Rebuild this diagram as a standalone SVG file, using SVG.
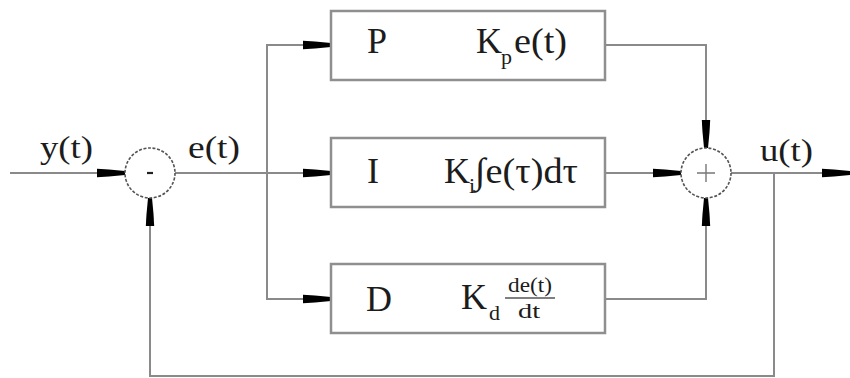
<svg xmlns="http://www.w3.org/2000/svg" width="850" height="378" viewBox="0 0 850 378">
<style>
.wire{fill:none;stroke:#8a8a8a;stroke-width:2}
.box{fill:#fff;stroke:#8f8f8f;stroke-width:2.5}
.sum{fill:#fff;stroke:#555;stroke-width:1.6;stroke-dasharray:3 1.6}
.t{font-family:"Liberation Serif","Times New Roman",serif;fill:#1c1c1c}
.lbl{font-size:32px}
.big{font-size:36px}
.sub{font-size:22px}
.frac{font-size:20px}
</style>
<defs>
<marker id="arr" markerUnits="userSpaceOnUse" markerWidth="32" markerHeight="12" viewBox="-30 -6 32 12" refX="0" refY="0" orient="auto" overflow="visible">
<path d="M-28,-4.2 L-16,-3.5 L0,-2 L0,2 L-16,3.5 L-28,4.2 Z" fill="#000"/>
</marker>
</defs>
<g id="connectors">
<path class="wire" d="M10,173 H125" marker-end="url(#arr)"/>
<path class="wire" d="M175,173 H331" marker-end="url(#arr)"/>
<path class="wire" d="M267,173 V45 H331" marker-end="url(#arr)"/>
<path class="wire" d="M267,173 V299 H331" marker-end="url(#arr)"/>
<path class="wire" d="M605,45 H706 V148" marker-end="url(#arr)"/>
<path class="wire" d="M605,173 H681" marker-end="url(#arr)"/>
<path class="wire" d="M605,299 H706 V198" marker-end="url(#arr)"/>
<path class="wire" d="M731,173 H850" marker-end="url(#arr)"/>
<path class="wire" d="M774,173 V376 H150 V198" marker-end="url(#arr)"/>
</g>
<g id="labels">
<text class="t lbl" x="40" y="158" textLength="53" lengthAdjust="spacingAndGlyphs">y(t)</text>
<text class="t lbl" x="188" y="158" textLength="52" lengthAdjust="spacingAndGlyphs">e(t)</text>
<text class="t lbl" x="760" y="161" textLength="53" lengthAdjust="spacingAndGlyphs">u(t)</text>
</g>
<g id="minus">
<circle class="sum" cx="150" cy="173" r="25"/>
<line x1="147" y1="173" x2="153" y2="173" stroke="#222" stroke-width="2.2"/>
</g>
<g id="plus">
<circle class="sum" cx="706" cy="173" r="25"/>
<path d="M697,173 H715 M706,164 V182" stroke="#777" stroke-width="1.4" fill="none"/>
</g>
<g id="P">
<rect class="box" x="331" y="11" width="274" height="69"/>
<text class="t big" x="367" y="53">P</text>
<text class="t big" x="476" y="53">K</text>
<text class="t sub" x="501" y="64">p</text>
<text class="t big" x="514" y="53" textLength="53" lengthAdjust="spacingAndGlyphs">e(t)</text>
</g>
<g id="I">
<rect class="box" x="331" y="138" width="274" height="69"/>
<text class="t big" x="367" y="183">I</text>
<text class="t big" x="444" y="183">K</text>
<text class="t sub" x="469" y="193">i</text>
<text class="t big" x="475" y="183" textLength="103" lengthAdjust="spacingAndGlyphs">∫e(τ)dτ</text>
</g>
<g id="D">
<rect class="box" x="331" y="264" width="274" height="69"/>
<text class="t big" x="366" y="311">D</text>
<text class="t big" x="461" y="309">K</text>
<text class="t sub" x="489" y="320">d</text>
<text class="t frac" x="508" y="292" textLength="44" lengthAdjust="spacingAndGlyphs">de(t)</text>
<line x1="505" y1="298" x2="555" y2="298" stroke="#555" stroke-width="1.4"/>
<text class="t frac" x="518" y="318" textLength="22" lengthAdjust="spacingAndGlyphs">dt</text>
</g>
</svg>
